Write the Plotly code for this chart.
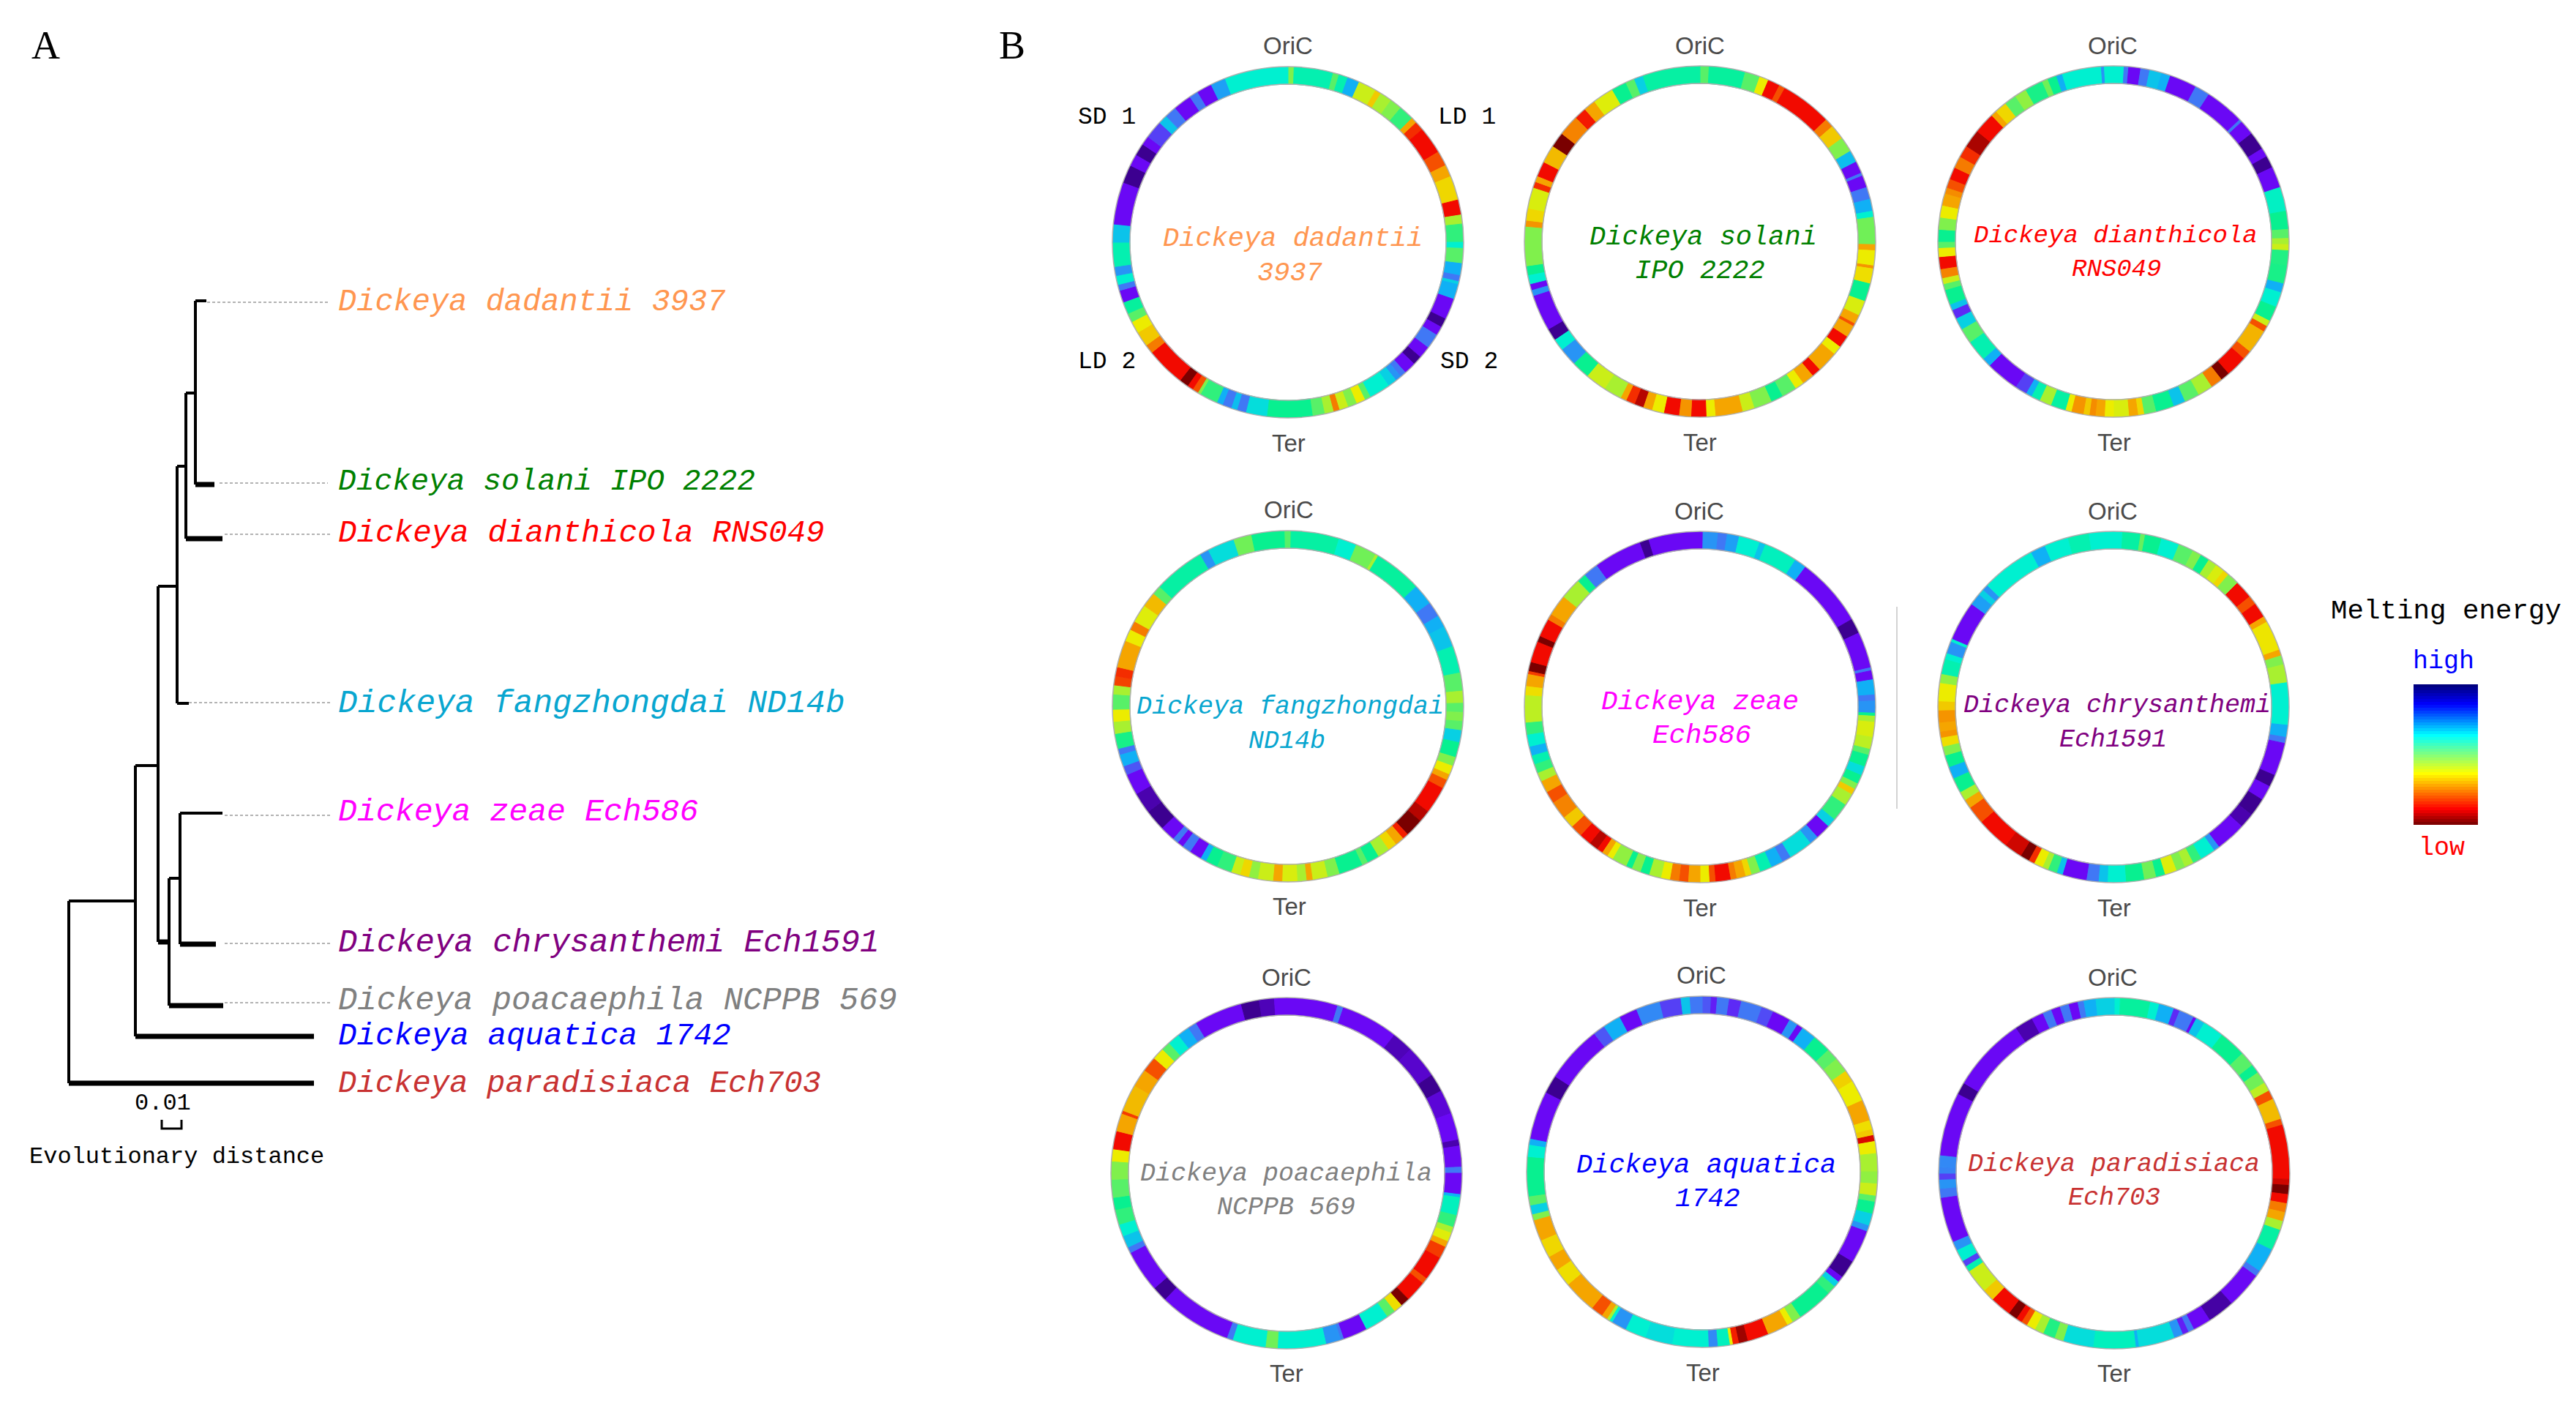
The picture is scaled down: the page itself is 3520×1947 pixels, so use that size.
import plotly.graph_objects as go

W, H = 3520, 1947

# ---------- panel A: tree ----------
species = ["Dickeya dadantii 3937", "Dickeya solani IPO 2222", "Dickeya dianthicola RNS049",
           "Dickeya fangzhongdai ND14b", "Dickeya zeae Ech586", "Dickeya chrysanthemi Ech1591",
           "Dickeya poacaephila NCPPB 569", "Dickeya aquatica 1742", "Dickeya paradisiaca Ech703"]
species_colors = ["#ff9650", "#008000", "#ff0000", "#08a6d0", "#ff00ff", "#800080", "#808080", "#0000ff", "#c83232"]
label_y = [413, 658, 729, 961, 1109, 1288, 1367, 1416, 1481]
label_size = [42, 41.3, 42.6, 44.4, 43.2, 44, 43.9, 42.6, 42.3]
# thin internal branches: x0, y0, x1, y1
thin_x0 = [267, 267, 254, 254, 242, 242, 216, 216, 185, 185, 94, 94, 231, 231, 246, 246, 242]
thin_y0 = [411, 411, 537, 537, 637, 637, 801, 801, 1046, 1046, 1231, 1231, 1200, 1200, 1111, 1111, 961]
thin_x1 = [282, 267, 267, 254, 254, 242, 242, 216, 216, 185, 185, 94, 246, 231, 246, 304, 258]
thin_y1 = [411, 662, 537, 736, 637, 961, 801, 1287, 1046, 1416, 1231, 1480, 1200, 1374, 1290, 1111, 961]
# thick leaf branches
thick_x0 = [267, 254, 216, 246, 231, 185, 94]
thick_x1 = [293, 304, 231, 295, 305, 429, 429]
thick_y = [662, 736, 1287, 1290, 1374, 1416, 1480]
# dotted leader lines
leader_x0 = [283, 300, 307, 258, 307, 307, 307]
leader_x1 = [451, 448, 451, 451, 451, 451, 451]
leader_y = [413, 660, 730, 960, 1114, 1289, 1370]

# ---------- panel B: rings (clockwise degrees from OriC; level 0 low .. 12 high) ----------
ring_cx = [1760, 2323, 2888, 1760, 2323, 2888, 1758, 2326, 2889]
ring_cy = [331, 330, 330, 965, 966, 966, 1603, 1601, 1603]
ring_lines = [("Dickeya dadantii", "3937"), ("Dickeya solani", "IPO 2222"), ("Dickeya dianthicola", "RNS049"),
              ("Dickeya fangzhongdai", "ND14b"), ("Dickeya zeae", "Ech586"), ("Dickeya chrysanthemi", "Ech1591"),
              ("Dickeya poacaephila", "NCPPB 569"), ("Dickeya aquatica", "1742"), ("Dickeya paradisiaca", "Ech703")]
ring_text_colors = ["#ff9650", "#008000", "#ff0000", "#08a6d0", "#ff00ff", "#800080", "#808080", "#0000ff", "#c83232"]
ring_text_size = [37, 37, 34, 35, 37.5, 35, 35, 37, 35]
ring_l1 = [(1766, 326), (2327, 324), (2891, 322), (1763, 966), (2323, 959), (2893, 964), (1757, 1604), (2331, 1592), (2888, 1591)]
ring_l2 = [(1763, 373), (2323, 370), (2892, 368), (1758, 1013), (2325, 1005), (2887, 1011), (1757, 1650), (2333, 1638), (2889, 1637)]
oric_pos = [(1760, 62), (2323, 62), (2887, 62), (1761, 696), (2322, 698), (2887, 698), (1758, 1335), (2325, 1332), (2887, 1335)]
ter_pos = [(1761, 605), (2323, 604), (2889, 604), (1762, 1238), (2323, 1240), (2889, 1240), (1758, 1876), (2327, 1875), (2889, 1876)]

r1_ends = [2,15,17,20,24,30,32,36,40,45,47,50,59,64,68,76,81,84,90,92,97,101,103,104,109,116,119,122,127,131,134,138,140,142,145,152,154,157,160,163,165,168,172,187,194,197,199,202,204,210,211,213,215,218,231,234,239,243,246,250,254,256,259,262,270,276,290,296,300,304,307,313,316,320,326,329,334,339,360]
r1_vals = [5.5,7.5,6,7.5,9,4.5,3.5,5,5.5,6.5,3,1.5,1,2,3,3.7,1,5,6.5,8,6,9,10,8.5,9,11,12,11,10,11,12,11,10,9.5,8.5,8,6,4,5.5,4.5,2.5,5,6,7,8.3,10,8.8,10,9,6.5,5.5,2,1,0,1,2.5,3.5,4,6,7.2,11,10,8,9.5,7.5,8.7,11,12,11,12,11,10.5,8.7,10,11,10,11,9.3,8]
r2_ends = [3,15,20,23,27,29,46,49,54,59,63,67,68,72,76,80,82,91,93,98,99,104,110,115,118,119,123,127,130,137,140,144,147,152,156,162,166,175,178,183,187,192,196,199,202,205,207,213,220,226,232,236,240,252,254,256,259,262,275,277,281,288,290,292,297,303,308,315,319,323,330,335,338,341,360]
r2_vals = [6,7.2,6,4,1,2,1,2.5,3.5,5.5,8.8,11,10,11,10,9,8,5.7,3,4,2.8,3.8,7,4.3,3,2,3,1,4,3,1,3,4,6,7,5.5,4.5,3,4,1,2.8,1,4,3,0.5,1.5,3,5,4.5,7,9.5,8,12,11,9.5,11,8,7,5.5,2.8,3.7,4.3,1.5,3,1,3.3,0,2.6,1.2,3,4.2,7,6,8.5,7.3]
r3_ends = [3.5,5,9,12,16,19,28,33,46,47,52,58,61,65,72,80,86,89,91,93,98,104,107,112,117,119,121,129,132,139,142,146,151,156,160,166,170,172,175,180,183,186,188,190,194,196,201,205,208,210,214,225,228,235,240,244,247,249,254,256,258,261,265,268,270,274,278,282,286,288,291,295,299,303,309,316,318,322,326,330,336,338,341,343,356,357,360]
r3_vals = [8,10,11,10,8.7,9,11,10,11,10,11,12,11,12,11,7.8,7,6,5,4.5,6.7,6.8,9,8,7,4.5,2,3.2,2,1,0,2.5,5,6,8.7,7,6,3.7,3,4.3,4,3,2.7,3.5,2.8,4,7.3,5,7.5,9,10.5,11,9,7.5,6,8.5,10.7,8.7,7,6,4.5,2.6,1,4,6,7,5.5,4,3,2.7,2,1,2.5,1.5,0.4,1,3,3.7,6,5.3,6.8,5.7,7,9,8,9.5,8]
r4_ends = [1,17,23,30,31,47,54,59,63,70,79,85,89,92,95,98,102,107,110,113,115,118,127,131,137,139,142,145,149,153,155,163,167,172,174,177,182,185,190,193,196,199,204,208,210,214,217,219,221,226,233,240,247,250,254,256,261,265,269,274,277,280,283,292,296,299,305,310,313,330,333,342,348,359,360]
r4_vals = [6,7.3,8,5.7,5,7.2,9,10,9,8.7,7.5,6,5,6,5.5,6,8.5,7,5.5,4,3,2,1,0.5,0,1.3,3,3.7,5,7,6,7,5.5,4.5,3,5,4.3,3,4.5,5.3,3.7,4.5,6.5,7,9,11,10,11,10,11,12,11.7,11,10.3,9,10,6.8,5,4,6,5,1.8,1.5,3,4,2.5,4.2,3.3,6,7.3,9.5,8.3,5.7,7,6]
r5_ends = [1,6,9,13,20,22,33,37,60,65,77,78,81,86,88,92,93,95,100,104,106,110,113,116,118,120,124,130,133,138,141,149,152,156,160,163,165,168,170,175,177,180,184,187,190,193,197,200,203,205,210,212,214,216,219,223,227,231,237,241,245,248,251,254,257,261,265,274,277,281,282,285,292,294,300,302,309,316,319,324,340,343,360]
r5_vals = [11,9.5,10,9.3,8,8.7,7.7,9,11,12,11,10,11,9,10,9.5,7,5,4.3,4.7,6,7,8.3,7,5.5,3.5,5,6.5,8.5,11,9.5,8.3,10,9,7.5,5.5,3.7,3,2.5,1,2,4,3,2,2.5,4,5,7,5.5,7,5.3,4,3,1,0.5,1,2,3.5,2.6,2,3,5,6.5,7.5,9,8,6.5,4.7,3.8,3,1.7,0,1,0,1,2.5,3,5,7,10,11,12,11]
r6_ends = [3,9,10.5,16,22,27,30,33,36,39,41,45,51,54,59,61,71,73,76,82,96,100,102,113,117,122,128,133,143,145,150,153,156,159,163,166,170,176,182,185,189,197,199,202,204,207,209,212,218,229,235,238,241,246,250,254,257,260,262,265,269,272,278,281,286,288,292,293,306,310,312,314,332,337,345,352,360]
r6_vals = [8,7.3,5.8,7,8,6,5.5,7,5,4.3,3.7,5.5,1,2,1,3,3.9,3,5.5,5,8,9,10,11,12,11,12,11.7,11,9.5,8,6.5,5,5.5,4.2,7,5.7,7,8,8.7,10,11,8.7,6.5,5,4,1.5,0,0.7,1,2,3,5,7,9,7,5.5,3.8,2.8,3,2.8,3.5,4,5.3,7.5,8,9.5,8,11,9.3,8.5,9.5,8,9,8,7.5,8]
r7_ends = [17,19,38,45,56,62,70,79,81,88,90,97,98,104,108,110,113,115,119,127,129,136,139,142,145,153,161,162,167,183,187,198,200,224,229,243,245,249,253,258,262,268,274,278,284,290,291,300,306,311,315,318,322,326,329,345,351,356,360]
r7_vals = [11,10,11,11.6,11.4,12,11.3,11,11.7,11,10,11,9,7.7,6.5,5,4.2,3,1.7,1,2,1,0,3.8,6,8,11,10,9.5,8,5.7,8,10,11,12,11,10,8.7,8,6.5,7,6,5.5,4,1,3,1.7,3.3,3,2,4,6,8,9,10,11,12,11.6,11]
r8_ends = [3,5,9,13,20,24,30,33,35,40,46,50,55,59,66,73,76,78,80,84,90,94,98,100,104,108,110,121,127,129,131,134,146,149,151,158,165,168,170,171,175,178,190,199,206,211,212,213,215,219,230,236,241,247,254,256,259,262,275,279,281,297,303,322,326,332,338,346,353,356,360]
r8_vals = [10.3,10.8,10,10.7,10,10.4,11,9.5,11,9,7,6,5.5,3.6,4,3,3.8,3.5,0.8,4,5,5.3,4.5,6,7,8.5,9.5,11,12,11,8.5,6.5,7,5.5,4,3,1,0.3,1.3,4,7.7,9.7,8,8.3,8,9.5,8,5,3,2,3,3.8,3,3.7,3,5.5,8.5,6,7,8,9,11,12,11,10.3,9,11,9.7,10.5,8.7,10]
r9_ends = [2,12,15,20,22,27,28,31,38,47,52,55,59,62,65,72,74,92,94,97,100,103,106,109,116,124,126,138,147,153,155,157,160,172,173,187,197,200,204,207,210,212,214,217,224,228,236,238,240,244,247,262,265,268,270,272,276,297,301,326,332,336,339,342,345,348,350,354,360]
r9_vals = [8,7.2,8,9,10.7,10,11,8.7,8,7,6,7,5.7,4.7,2,3.3,2,1,0.7,0,1,2.5,3,5,7.3,9,10,11,11.8,11,10,10.8,9.5,8.3,9,7.7,8.3,5.5,6.7,5,4,2,1,0,1,3.5,4.5,7.5,10.5,8,9.5,11,10,9.5,10.5,9.8,9.7,11,12,11,11.7,11,10,11,10,11,10,9,8.5]

ring_ends = [r1_ends, r2_ends, r3_ends, r4_ends, r5_ends, r6_ends, r7_ends, r8_ends, r9_ends]
ring_vals = [r1_vals, r2_vals, r3_vals, r4_vals, r5_vals, r6_vals, r7_vals, r8_vals, r9_vals]

ring_scale = [[0, "#7a0000"], [1/12, "#f20a00"], [2/12, "#f55000"], [3/12, "#f5a500"], [4/12, "#ecec00"],
              [5/12, "#a8f030"], [6/12, "#58f068"], [7/12, "#08f090"], [8/12, "#00f0d0"], [9/12, "#10b0f5"],
              [10/12, "#4078f5"], [11/12, "#6a08f5"], [1, "#3c0090"]]
# colour key, read from top (high) to bottom (low)
legend_scale = [[0, "#000080"], [0.136, "#0000ff"], [0.36, "#00ffff"], [0.637, "#ffff00"], [0.896, "#ff0000"], [1, "#800000"]]
legend_edges = list(range(935, 1129, 4))

OUT_R, IN_R = 240, 216

fig = go.Figure()

# tree
tx, ty = [], []
for a, b, c, d in zip(thin_x0, thin_y0, thin_x1, thin_y1):
    tx += [a, c, None]; ty += [b, d, None]
fig.add_trace(go.Scatter(x=tx, y=ty, mode="lines", line=dict(color="black", width=4), hoverinfo="skip"))
tx, ty = [], []
for a, c, b in zip(thick_x0, thick_x1, thick_y):
    tx += [a, c, None]; ty += [b, b, None]
fig.add_trace(go.Scatter(x=tx, y=ty, mode="lines", line=dict(color="black", width=7), hoverinfo="skip"))
tx, ty = [], []
for a, c, b in zip(leader_x0, leader_x1, leader_y):
    tx += [a, c, None]; ty += [b, b, None]
fig.add_trace(go.Scatter(x=tx, y=ty, mode="lines", line=dict(color="#9a9a9a", width=1.5, dash="4px,3px"), hoverinfo="skip"))
fig.add_trace(go.Scatter(x=[221, 221, 248, 248], y=[1530, 1542, 1542, 1530], mode="lines",
                         line=dict(color="black", width=3), hoverinfo="skip"))
# faint divider
fig.add_trace(go.Scatter(x=[2592, 2592], y=[829, 1105], mode="lines", line=dict(color="#c4c4c4", width=1.5), hoverinfo="skip"))

# legend bar
fig.add_trace(go.Heatmap(x=[3298, 3386], y=legend_edges, z=[[v] for v in legend_edges[:-1]],
                         colorscale=legend_scale, showscale=False, hoverinfo="skip"))

annotations = []
def note(x, y, text, size, color="black", family="Liberation Mono", style="normal", anchor="center"):
    annotations.append(dict(x=x, y=y, xref="x", yref="y", text=text, showarrow=False, xanchor=anchor, yanchor="middle",
                            font=dict(size=size, color=color, family=family, style=style)))

note(62, 62, "A", 54, family="Liberation Serif")
note(1383, 62, "B", 54, family="Liberation Serif")
for name, col, yy, sz in zip(species, species_colors, label_y, label_size):
    note(460, yy, name, sz, col, style="italic", anchor="left")
note(222, 1507, "0.01", 32)
note(241, 1580, "Evolutionary distance", 32)
note(3342, 835, "Melting energy", 37.5)
note(3339, 904, "high", 35, "#0000ff")
note(3336, 1159, "low", 35, "#ff0000")
note(1512, 160, "SD 1", 33)
note(2004, 160, "LD 1", 33)
note(1512, 494, "LD 2", 33)
note(2007, 494, "SD 2", 33)

polars = {}
for i in range(9):
    cx, cy = ring_cx[i], ring_cy[i]
    key = "polar" if i == 0 else f"polar{i+1}"
    polars[key] = dict(
        domain=dict(x=[(cx - OUT_R) / W, (cx + OUT_R) / W], y=[1 - (cy + OUT_R) / H, 1 - (cy - OUT_R) / H]),
        bgcolor="rgba(0,0,0,0)",
        radialaxis=dict(visible=False, range=[0, OUT_R]),
        angularaxis=dict(direction="clockwise", rotation=90, showticklabels=False, ticks="", showgrid=False,
                         showline=True, linecolor="#b0b0b0", linewidth=1.5),
    )
    ends, vals = ring_ends[i], ring_vals[i]
    starts = [0] + ends[:-1]
    fig.add_trace(go.Barpolar(
        subplot=key,
        theta=[(a + b) / 2 for a, b in zip(starts, ends)],
        width=[b - a for a, b in zip(starts, ends)],
        r=[OUT_R - IN_R] * len(vals), base=[IN_R] * len(vals),
        marker=dict(color=vals, colorscale=ring_scale, cmin=0, cmax=12, showscale=False,
                    line=dict(width=1, color=vals, colorscale=ring_scale, cmin=0, cmax=12)),
        hoverinfo="skip"))
    fig.add_trace(go.Scatterpolar(
        subplot=key, theta=list(range(0, 361, 3)), r=[IN_R] * 121, mode="lines",
        line=dict(color="#b0b0b0", width=1.5), hoverinfo="skip"))
    l1, l2 = ring_lines[i]
    c, s = ring_text_colors[i], ring_text_size[i]
    note(ring_l1[i][0], ring_l1[i][1], l1, s, c, style="italic")
    note(ring_l2[i][0], ring_l2[i][1], l2, s, c, style="italic")
    note(oric_pos[i][0], oric_pos[i][1], "OriC", 33, "#4a4a4a", family="Liberation Sans")
    note(ter_pos[i][0], ter_pos[i][1], "Ter", 33, "#4a4a4a", family="Liberation Sans")

fig.update_layout(
    width=W, height=H, margin=dict(l=0, r=0, t=0, b=0), paper_bgcolor="white", plot_bgcolor="white",
    showlegend=False, annotations=annotations,
    xaxis=dict(range=[0, W], visible=False, domain=[0, 1], fixedrange=True),
    yaxis=dict(range=[H, 0], visible=False, domain=[0, 1], fixedrange=True),
    **polars)

fig.write_html("out.html", post_script="document.body.style.margin='0';document.body.style.overflow='hidden';",
               config={"displayModeBar": False})
